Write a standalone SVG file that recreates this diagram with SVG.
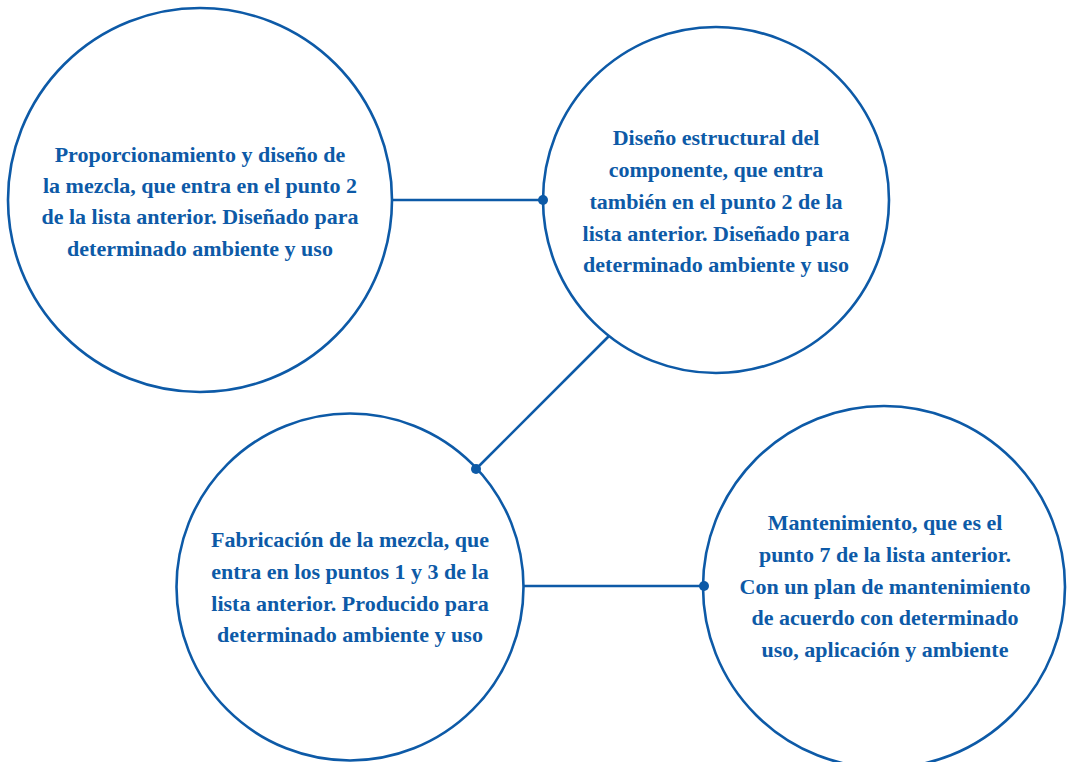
<svg xmlns="http://www.w3.org/2000/svg" width="1067" height="762" viewBox="0 0 1067 762">
<style>
.node{fill:#fff;stroke:#0d5aa7;stroke-width:2.6}
.lbl{font-family:"Liberation Serif","Times New Roman",serif;font-weight:bold;font-size:22px;fill:#0d5aa7;text-anchor:middle}
.conn{stroke:#0d5aa7;stroke-width:2.6;fill:none}
.dot{fill:#0d5aa7}
</style>
<rect width="1067" height="762" fill="#fff"/>
<g id="connectors">
<line class="conn" x1="392" y1="200" x2="543" y2="200"/>
<line class="conn" x1="609" y1="336" x2="476" y2="469"/>
<line class="conn" x1="524" y1="586" x2="704" y2="586"/>
</g>
<g id="node1">
<circle class="node" cx="200" cy="200" r="192"/>
<text class="lbl" x="200" y="162">Proporcionamiento y diseño de</text>
<text class="lbl" x="200" y="193">la mezcla, que entra en el punto 2</text>
<text class="lbl" x="200" y="224">de la lista anterior. Diseñado para</text>
<text class="lbl" x="200" y="256">determinado ambiente y uso</text>
</g>
<g id="node2">
<circle class="node" cx="716" cy="200" r="173"/>
<text class="lbl" x="716" y="145">Diseño estructural del</text>
<text class="lbl" x="716" y="177">componente, que entra</text>
<text class="lbl" x="716" y="209">también en el punto 2 de la</text>
<text class="lbl" x="716" y="241">lista anterior. Diseñado para</text>
<text class="lbl" x="716" y="272">determinado ambiente y uso</text>
</g>
<g id="node3">
<circle class="node" cx="350" cy="587" r="173.5"/>
<text class="lbl" x="350" y="547">Fabricación de la mezcla, que</text>
<text class="lbl" x="350" y="579">entra en los puntos 1 y 3 de la</text>
<text class="lbl" x="350" y="611">lista anterior. Producido para</text>
<text class="lbl" x="350" y="642">determinado ambiente y uso</text>
</g>
<g id="node4">
<circle class="node" cx="884" cy="587" r="181"/>
<text class="lbl" x="885" y="530">Mantenimiento, que es el</text>
<text class="lbl" x="885" y="562">punto 7 de la lista anterior.</text>
<text class="lbl" x="885" y="594">Con un plan de mantenimiento</text>
<text class="lbl" x="885" y="625">de acuerdo con determinado</text>
<text class="lbl" x="885" y="657">uso, aplicación y ambiente</text>
</g>
<g id="dots">
<circle class="dot" cx="543" cy="200" r="5"/>
<circle class="dot" cx="476" cy="469" r="5"/>
<circle class="dot" cx="704" cy="586" r="5"/>
</g>
</svg>
